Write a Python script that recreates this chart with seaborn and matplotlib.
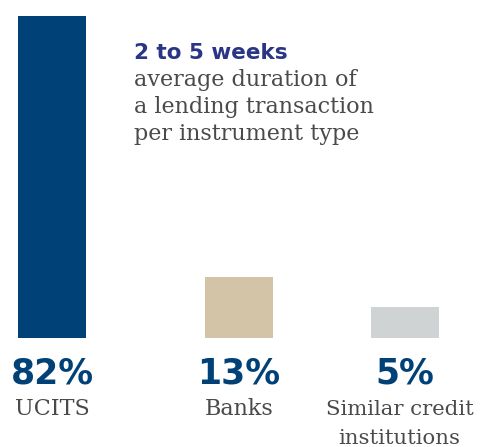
import matplotlib
matplotlib.use("Agg")
import matplotlib.pyplot as plt
import seaborn as sns
import pandas as pd

# ---- data ----
categories = ["UCITS", "Banks", "Similar credit\ninstitutions"]
shares = [82, 13, 5]
share_labels = ["82%", "13%", "5%"]
headline = "2 to 5 weeks"
subtitle_lines = ["average duration of", "a lending transaction", "per instrument type"]

# ---- style ----
colors = ["#004178", "#D3C3A7", "#D0D3D4"]
navy_num = "#004178"
navy_title = "#2A3585"
grey_text = "#4A4A4A"
base = -3.2          # visual baseline offset of the bars (value units)
x_shift = [0.0, 0.06, 0.0]
label_shift = [0.0, 0.0, -0.03]
label_size = [16, 16, 15.3]

sns.set_theme(style="white")
W, H = 480, 447
fig = plt.figure(figsize=(W / 100, H / 100), dpi=100)
ax = fig.add_axes([0, 109 / H, 1, (431 - 109) / H])

df = pd.DataFrame({"cat": categories, "val": shares})
sns.barplot(data=df, x="cat", y="val", hue="cat", palette=colors,
            legend=False, width=0.385, ax=ax, saturation=1)

for p, dx in zip(ax.patches, x_shift):
    p.set_x(p.get_x() + dx)
    p.set_y(base)
    p.set_height(p.get_height() - base)
    p.set_edgecolor("none")

ax.set_xlim(-0.295, 2.425)
ax.set_ylim(base, 82)
ax.axis("off")

# labels under bars
for i, (lab, cat, dx) in enumerate(zip(share_labels, categories, x_shift)):
    xc = i + dx
    ax.annotate(lab, xy=(xc, H - 383), xycoords=("data", "figure pixels"),
                ha="center", va="baseline", fontsize=25, fontweight="heavy",
                family="DejaVu Sans", color=navy_num, annotation_clip=False)
    lines = cat.split("\n")
    for j, ln in enumerate(lines):
        ax.annotate(ln, xy=(xc + label_shift[i], H - 415 - 29 * j),
                    xycoords=("data", "figure pixels"),
                    ha="center", va="baseline", fontsize=label_size[i],
                    family="DejaVu Serif", color=grey_text, annotation_clip=False)

# headline block
fig.text(134 / W, (H - 59) / H, headline, ha="left", va="baseline",
         fontsize=15.5, fontweight="heavy", family="DejaVu Sans", color=navy_title)
for j, ln in enumerate(subtitle_lines):
    fig.text(134 / W, (H - 86 - 27 * j) / H, ln, ha="left", va="baseline",
             fontsize=16, family="DejaVu Serif", color=grey_text)

fig.savefig("out.png", dpi=100, facecolor="white")
